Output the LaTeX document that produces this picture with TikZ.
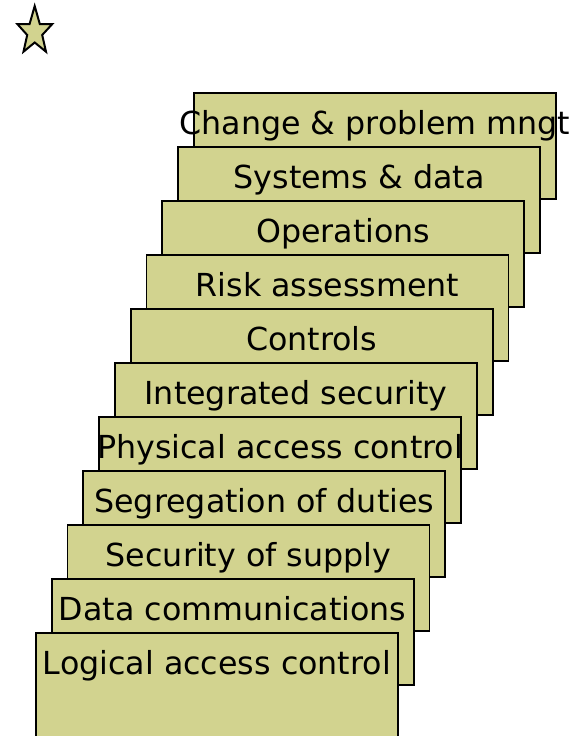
\documentclass[tikz,border=0pt]{standalone}
\usepackage{fontspec}
\setmainfont{DejaVu Sans}
\definecolor{boxfill}{RGB}{210,211,143}
\tikzset{
  layerbox/.style={draw=black, fill=boxfill, line width=1.8pt, minimum width=362pt, minimum height=106pt, inner sep=0pt, anchor=north west},
  layerlabel/.style={font=\fontsize{31.7}{36}\selectfont, anchor=base, inner sep=0pt, text=black}
}
\begin{document}
\begin{tikzpicture}[x=1pt,y=1pt]
\useasboundingbox (0,0) rectangle (586,-736);
\begin{scope}
\clip (0,0) rectangle (586,-736);
\draw[fill=boxfill, line width=2pt, line join=miter]
  (34.7,-6) -- (39.8,-24) -- (52.3,-24) -- (42.2,-35) -- (46,-51.7) -- (34.7,-42.5) -- (23.5,-51.7) -- (27.2,-35) -- (17.3,-24) -- (29.6,-24) -- cycle;
\foreach \k/\t in {0/Change \& problem mngt, 1/Systems \& data, 2/Operations, 3/Risk assessment, 4/Controls, 5/Integrated security, 6/Physical access control, 7/Segregation of duties, 8/Security of supply, 9/Data communications, 10/Logical access control}{
  \node[layerbox] (b\k) at ({193-15.8*\k}, {-92-54*\k}) {};
  \node[layerlabel] (t\k) at ([yshift=-42pt]b\k.north) {\t};
}
\end{scope}
\end{tikzpicture}
\end{document}
